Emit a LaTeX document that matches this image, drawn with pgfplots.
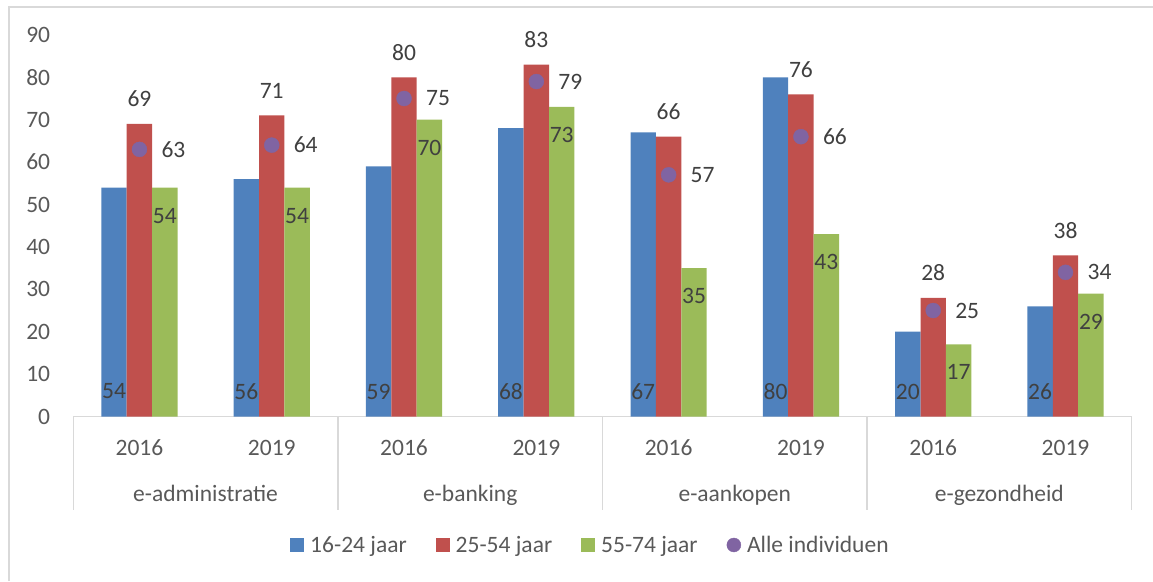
\documentclass[border=0pt]{standalone}
\usepackage{pgfplots}
\pgfplotsset{compat=1.18}
\usepackage{fontspec}
\setmainfont{Carlito}
\definecolor{cblue}{HTML}{4F81BD}
\definecolor{cred}{HTML}{C0504D}
\definecolor{cgreen}{HTML}{9BBB59}
\definecolor{cpurple}{HTML}{8064A2}
\definecolor{txt}{HTML}{595959}
\definecolor{lbl}{HTML}{404040}
\definecolor{frm}{HTML}{D9D9D9}
\newcommand{\fs}{\fontsize{23.5}{28}\selectfont}
\tikzset{
  yearlbl/.style={font=\fs, text=txt, anchor=base, inner sep=0pt, yshift=-39.2pt},
  catlbl/.style={font=\fs, text=txt, anchor=base, inner sep=0pt, yshift=-85.2pt},
  sepline/.style={frm, line width=1.5pt},
}
\begin{document}
\begin{tikzpicture}
\useasboundingbox (0,0) rectangle (1153pt,-581pt);
\draw[frm, line width=2pt] (8.5pt,-581pt) -- (8.5pt,-7pt) -- (1153pt,-7pt);
\begin{axis}[
  at={(73.3pt,-416.5pt)}, anchor=south west,
  scale only axis, width=1058.4pt, height=381.6pt,
  xmin=-0.5, xmax=7.5, ymin=0, ymax=90,
  enlargelimits=false, clip=false,
  axis x line*=bottom, axis y line*=left,
  x axis line style={frm, line width=1.5pt, -},
  y axis line style={draw=none},
  xtick=\empty,
  ytick={0,10,...,90},
  major tick length=0pt,
  tick style={draw=none},
  yticklabel style={font=\fs, text=txt, inner sep=0pt, anchor=east, xshift=-23pt},
  /pgf/number format/assume math mode=true,
  legend columns=4,
  legend style={at={(0.4877,-0.3367)}, anchor=center, draw=none, fill=none,
    font=\fs, text=txt, nodes={inner sep=0pt}, column sep=0pt,
    /tikz/every even column/.append style={column sep=29pt}},
]
\addplot[ybar, bar width=0.192, bar shift=-0.192, fill=cblue, draw=none,
  nodes near coords, visualization depends on={rawy \as \rawy},
  nodes near coords style={font=\fs, text=lbl, anchor=center, xshift=-25.4pt, yshift=25pt-\rawy*4.24pt},
  legend image code/.code={\fill[cblue] (0pt,-7pt) rectangle (14pt,7pt); \path (20pt,0pt);}]
  coordinates {(0,54) (1,56) (2,59) (3,68) (4,67) (5,80) (6,20) (7,26)};
\addlegendentry{16-24 jaar}
\addplot[ybar, bar width=0.192, bar shift=0, fill=cred, draw=none,
  nodes near coords,
  nodes near coords style={font=\fs, text=lbl, anchor=center, yshift=25pt},
  legend image code/.code={\fill[cred] (0pt,-7pt) rectangle (14pt,7pt); \path (20pt,0pt);}]
  coordinates {(0,69) (1,71) (2,80) (3,83) (4,66) (5,76) (6,28) (7,38)};
\addlegendentry{25-54 jaar}
\addplot[ybar, bar width=0.192, bar shift=0.192, fill=cgreen, draw=none,
  nodes near coords,
  nodes near coords style={font=\fs, text=lbl, anchor=center, xshift=25.4pt, yshift=-28pt},
  legend image code/.code={\fill[cgreen] (0pt,-7pt) rectangle (14pt,7pt); \path (20pt,0pt);}]
  coordinates {(0,54) (1,54) (2,70) (3,73) (4,35) (5,43) (6,17) (7,29)};
\addlegendentry{55-74 jaar}
\addplot[only marks, mark=*, mark size=7.5pt, color=cpurple,
  nodes near coords,
  nodes near coords style={font=\fs, text=lbl, anchor=center, xshift=34pt},
  legend image code/.code={\fill[cpurple] (7pt,0pt) circle (7pt); \path (20pt,0pt);}]
  coordinates {(0,63) (1,64) (2,75) (3,79) (4,57) (5,66) (6,25) (7,34)};
\addlegendentry{Alle individuen}
\draw[sepline] (axis cs:-0.5,0) -- ++(0pt,-93pt);
\draw[sepline] (axis cs:1.5,0) -- ++(0pt,-93pt);
\draw[sepline] (axis cs:3.5,0) -- ++(0pt,-93pt);
\draw[sepline] (axis cs:5.5,0) -- ++(0pt,-93pt);
\draw[sepline] (axis cs:7.5,0) -- ++(0pt,-93pt);
\node[yearlbl] at (axis cs:0,0) {2016};
\node[yearlbl] at (axis cs:1,0) {2019};
\node[yearlbl] at (axis cs:2,0) {2016};
\node[yearlbl] at (axis cs:3,0) {2019};
\node[yearlbl] at (axis cs:4,0) {2016};
\node[yearlbl] at (axis cs:5,0) {2019};
\node[yearlbl] at (axis cs:6,0) {2016};
\node[yearlbl] at (axis cs:7,0) {2019};
\node[catlbl] at (axis cs:0.5,0) {e-administratie};
\node[catlbl] at (axis cs:2.5,0) {e-banking};
\node[catlbl] at (axis cs:4.5,0) {e-aankopen};
\node[catlbl] at (axis cs:6.5,0) {e-gezondheid};
\end{axis}
\end{tikzpicture}
\end{document}
